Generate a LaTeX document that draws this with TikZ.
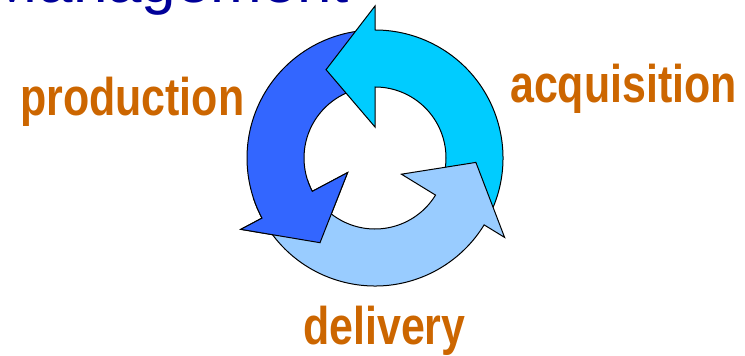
\documentclass[tikz,border=0pt]{standalone}
\usepackage{fontspec}
\setmainfont{Liberation Sans}
\newfontfamily\stagefont{Liberation Sans}[FakeStretch=0.81]
\usepackage{tikz}
\usetikzlibrary{positioning}
\definecolor{stageorange}{HTML}{CC6600}
\definecolor{titleblue}{HTML}{000099}
\definecolor{acqcyan}{HTML}{00CCFF}
\definecolor{prodblue}{HTML}{3366FF}
\definecolor{delivblue}{HTML}{99CCFF}
\tikzstyle{stage} = [inner sep=0pt, anchor=base west, text=stageorange, font=\stagefont\bfseries\fontsize{53}{60}\selectfont]
\tikzstyle{cyclearrow} = [draw=black, line width=1pt, line join=miter]

% curved arrow round the hole: #1 = tail angle, #2 = angle of the head's base
\newcommand{\cyclepath}[2]{(#1:71) -- (#1:128) arc[start angle=#1, end angle=#2, radius=128]
  -- (#2:152) -- ({#2+29}:101) -- (#2:31) -- (#2:71)
  arc[start angle=#2, end angle=#1, radius=71] -- cycle}

\begin{document}
\begin{tikzpicture}[x=1pt, y=1pt]
    \useasboundingbox (0,0) rectangle (745,356);
    \clip (0,0) rectangle (745,356);

    % Title (runs off the top)
    \node (title) [anchor=base east, inner sep=0pt, text=titleblue, font=\fontsize{62}{70}\selectfont] at (349,353.5) {Management};

    % Cycle
    \begin{scope}[shift={(375,198)}]
        \draw [cyclearrow, fill=prodblue] \cyclepath{93}{208};
        \draw [cyclearrow, fill=acqcyan] \cyclepath{-28.5}{90};
        \draw [cyclearrow, fill=delivblue] \cyclepath{211}{328.5};
        % production head goes back on top of the delivery tail
        \begin{scope}
            \clip (0,0) -- (198:175) arc[start angle=198, end angle=250, radius=175] -- cycle;
            \draw [cyclearrow, fill=prodblue] \cyclepath{93}{208};
        \end{scope}
    \end{scope}

    % Nodes
    \node (production) [stage] at (20,240) {production};
    \node (acquisition) [stage] at (510,253) {acquisition};
    \node (delivery) [stage] at (303,11) {delivery};

\end{tikzpicture}
\end{document}
